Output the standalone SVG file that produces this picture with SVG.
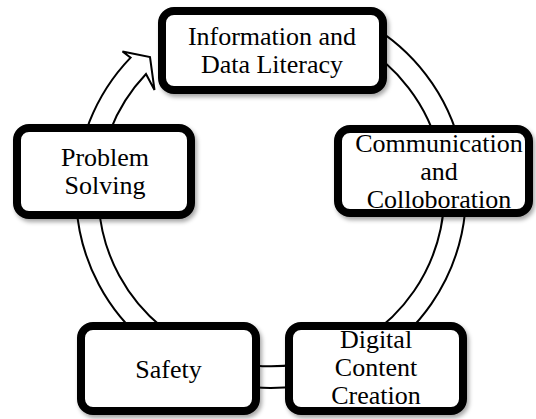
<svg xmlns="http://www.w3.org/2000/svg" width="536" height="419" viewBox="0 0 536 419">
<defs>
<filter id="sh" x="-10%" y="-10%" width="125%" height="130%">
<feDropShadow dx="2" dy="3" stdDeviation="2" flood-color="#000" flood-opacity="0.35"/>
</filter>
<style>
.box{fill:#fff;stroke:#000;stroke-width:8;filter:url(#sh)}
.t{font-family:"Liberation Serif","Times New Roman",serif;font-size:26px;fill:#000;text-anchor:middle}
.ring{fill:#fff;stroke:#000;stroke-width:2;stroke-linejoin:miter}
</style>
</defs>
<rect width="536" height="419" fill="#fff"/>
<g id="connectors">
<path class="ring" d="M 368.5 24.1 A 195 195 0 1 1 130.6 57.6 L 122.5 51.5 L 150 57 L 154.5 90 L 146 74 A 173 173 0 1 0 357.5 43.2 Z"/>
</g>
<g id="node-info">
<rect class="box" x="162" y="11" width="221" height="79" rx="12"/>
<text class="t" x="272" y="45">Information and</text>
<text class="t" x="272" y="73">Data Literacy</text>
</g>
<g id="node-comm">
<rect class="box" x="338" y="129" width="191" height="84" rx="12"/>
<text class="t" x="439" y="152">Communication</text>
<text class="t" x="439" y="180">and</text>
<text class="t" x="439" y="208">Colloboration</text>
</g>
<g id="node-problem">
<rect class="box" x="17" y="128" width="174" height="87" rx="12"/>
<text class="t" x="105" y="166">Problem</text>
<text class="t" x="105" y="194">Solving</text>
</g>
<g id="node-safety">
<rect class="box" x="81" y="326" width="175" height="85" rx="12"/>
<text class="t" x="168.5" y="378">Safety</text>
</g>
<g id="node-digital">
<rect class="box" x="289" y="326" width="174" height="85" rx="12"/>
<text class="t" x="376" y="348">Digital</text>
<text class="t" x="376" y="376">Content</text>
<text class="t" x="376" y="404">Creation</text>
</g>
</svg>
